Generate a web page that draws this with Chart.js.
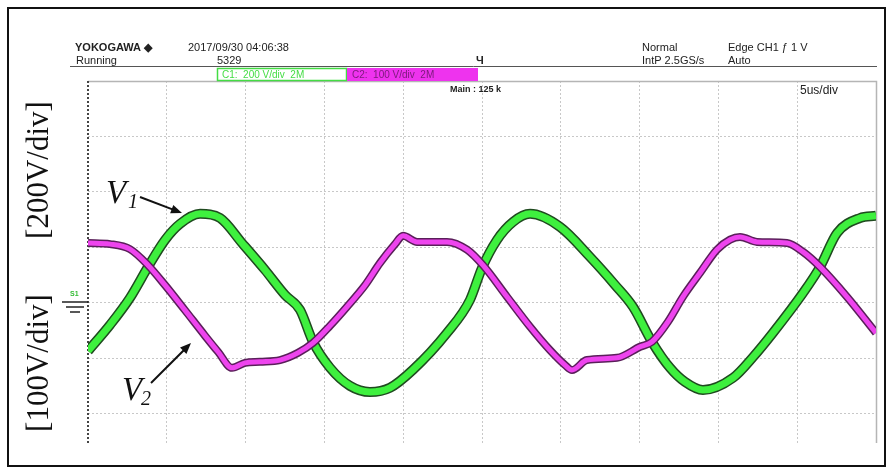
<!DOCTYPE html>
<html>
<head>
<meta charset="utf-8">
<script src="https://cdn.jsdelivr.net/npm/chart.js@4.4.0/dist/chart.umd.min.js"></script>
<style>
  html, body { margin: 0; padding: 0; background: #fff; }
  #wrap { position: relative; width: 893px; height: 474px; }
  canvas { display: block; }
</style>
</head>
<body>
<div id="wrap"><canvas id="scope" width="893" height="474"></canvas></div>
<script>
// Time base: 5 us/div, 10 divisions (microseconds)
const timeTicks = [0, 5, 10, 15, 20, 25, 30, 35, 40, 45, 50];

// CH1 (V1), 200 V/div
const timeV1 = [0, 1.4, 2.66, 3.81, 4.89, 5.84, 7.11, 8.38, 9.77, 11.23, 12.5, 13.45, 14.28, 15.36, 16.62, 17.89, 19.16, 20.62, 22.78, 24.24, 25.0, 25.95, 26.97, 28.05, 29.95, 31.85, 33.44, 34.58, 35.79, 36.93, 37.88, 39.02, 40.93, 42.2, 43.46, 45.37, 46.45, 47.53, 48.98, 50.0];
const voltsV1 = [-173, -79, 18, 130, 227, 285, 321, 306, 216, 119, 29, -25, -141, -234, -299, -321, -306, -241, -108, 11, 126, 227, 292, 321, 274, 166, 65, -14, -141, -234, -285, -314, -270, -195, -108, 36, 130, 252, 306, 314];

// CH2 (V2), 100 V/div
const timeV2 = [0, 1.4, 2.66, 3.81, 4.89, 6.15, 7.42, 8.25, 9.14, 9.96, 10.91, 12.18, 13.32, 14.28, 15.36, 16.43, 17.58, 18.53, 19.48, 19.99, 20.88, 22.78, 24.05, 25.06, 26.59, 28.05, 29.31, 30.27, 30.71, 31.66, 33.57, 35.03, 35.79, 36.8, 37.75, 38.83, 39.91, 40.74, 41.37, 42.45, 44.35, 45.37, 46.45, 48.16, 50.0];
const voltsV2 = [108, 106, 97, 68, 32, -13, -59, -88, -117, -108, -106, -103, -90, -72, -41, -7, 32, 72, 106, 121, 110, 110, 96, 68, 11, -43, -85, -112, -121, -103, -99, -79, -70, -34, 11, 54, 96, 114, 119, 110, 108, 92, 65, 11, -54];

// Vertical graticule: CH1 volts at each division
const voltTicksV1 = [-400, -200, 0, 200, 400, 600, 800];

const pts = (t, v) => t.map((x, i) => ({ x, y: v[i] }));

const serif = '"Liberation Serif", "DejaVu Serif", serif';
const sans = '"Liberation Sans", Arial, sans-serif';

function arrow(ctx, x0, y0, x1, y1) {
  const a = Math.atan2(y1 - y0, x1 - x0);
  const L = 11, W = 4.5;
  ctx.beginPath();
  ctx.moveTo(x0, y0);
  ctx.lineTo(x1 - L * 0.8 * Math.cos(a), y1 - L * 0.8 * Math.sin(a));
  ctx.lineWidth = 2;
  ctx.strokeStyle = '#111';
  ctx.stroke();
  ctx.beginPath();
  ctx.moveTo(x1, y1);
  ctx.lineTo(x1 - L * Math.cos(a) + W * Math.sin(a), y1 - L * Math.sin(a) - W * Math.cos(a));
  ctx.lineTo(x1 - L * Math.cos(a) - W * Math.sin(a), y1 - L * Math.sin(a) + W * Math.cos(a));
  ctx.closePath();
  ctx.fillStyle = '#111';
  ctx.fill();
}

const frame = {
  id: 'scopeFrame',
  beforeDatasetsDraw(chart) {
    const { ctx, chartArea: a } = chart;
    ctx.save();
    // right and top edges of the screen
    ctx.strokeStyle = '#b5b5b5';
    ctx.lineWidth = 1.5;
    ctx.beginPath();
    ctx.moveTo(a.left, a.top + 0.5);
    ctx.lineTo(a.right + 0.5, a.top + 0.5);
    ctx.lineTo(a.right + 0.5, a.bottom);
    ctx.stroke();
    // left edge with division marks
    ctx.strokeStyle = '#444';
    ctx.lineWidth = 2;
    ctx.setLineDash([2, 2]);
    ctx.beginPath();
    ctx.moveTo(a.left, a.top);
    ctx.lineTo(a.left, a.bottom);
    ctx.stroke();
    ctx.restore();
  },
  afterDraw(chart) {
    const { ctx } = chart;
    ctx.save();
    // outer border
    ctx.strokeStyle = '#111';
    ctx.lineWidth = 2;
    ctx.strokeRect(8, 8, 877, 458);

    // header
    ctx.fillStyle = '#222';
    ctx.textBaseline = 'alphabetic';
    ctx.font = 'bold 11px ' + sans;
    ctx.fillText('YOKOGAWA \u25C6', 75, 51);
    ctx.font = '11px ' + sans;
    ctx.fillText('2017/09/30 04:06:38', 188, 51);
    ctx.fillText('Running', 76, 64);
    ctx.fillText('5329', 217, 64);
    ctx.fillText('Normal', 642, 51);
    ctx.fillText('IntP 2.5GS/s', 642, 64);
    ctx.fillText('Edge CH1 \u0192 1 V', 728, 51);
    ctx.fillText('Auto', 728, 64);
    ctx.font = 'bold 11px ' + sans;
    ctx.fillText('\u0427', 476, 64);
    ctx.strokeStyle = '#555';
    ctx.lineWidth = 1;
    ctx.beginPath();
    ctx.moveTo(70, 66.5);
    ctx.lineTo(877, 66.5);
    ctx.stroke();

    // channel boxes
    ctx.fillStyle = '#fff';
    ctx.fillRect(217, 68, 130, 13);
    ctx.strokeStyle = '#44dd44';
    ctx.lineWidth = 1.5;
    ctx.strokeRect(217.5, 68.5, 129, 12);
    ctx.fillStyle = '#ee33ee';
    ctx.fillRect(347, 68, 131, 13);
    ctx.font = '10px ' + sans;
    ctx.fillStyle = '#44dd44';
    ctx.fillText('C1:  200 V/div  2M', 222, 78);
    ctx.fillStyle = '#7a1a7a';
    ctx.fillText('C2:  100 V/div  2M', 352, 78);

    ctx.fillStyle = '#222';
    ctx.font = 'bold 9px ' + sans;
    ctx.fillText('Main : 125 k', 450, 92);
    ctx.font = '12px ' + sans;
    ctx.fillText('5us/div', 800, 94);

    // ground reference marker
    ctx.fillStyle = '#33bb33';
    ctx.font = 'bold 7px ' + sans;
    ctx.fillText('S1', 70, 296);
    ctx.strokeStyle = '#222';
    ctx.lineWidth = 1.5;
    ctx.beginPath();
    ctx.moveTo(62, 302); ctx.lineTo(88, 302);
    ctx.moveTo(66, 307); ctx.lineTo(84, 307);
    ctx.moveTo(70, 312); ctx.lineTo(80, 312);
    ctx.stroke();

    // vertical scale labels
    ctx.fillStyle = '#111';
    ctx.font = '31px ' + serif;
    ctx.textAlign = 'center';
    ctx.textBaseline = 'middle';
    ctx.save();
    ctx.translate(40, 170);
    ctx.rotate(-Math.PI / 2);
    ctx.fillText('[200V/div]', 0, 0);
    ctx.restore();
    ctx.save();
    ctx.translate(40, 363);
    ctx.rotate(-Math.PI / 2);
    ctx.fillText('[100V/div]', 0, 0);
    ctx.restore();

    // trace labels
    ctx.textAlign = 'left';
    ctx.textBaseline = 'alphabetic';
    ctx.font = 'italic 33px ' + serif;
    ctx.fillText('V', 106, 203);
    ctx.fillText('V', 122, 400);
    ctx.font = 'italic 20px ' + serif;
    ctx.fillText('1', 128, 208);
    ctx.fillText('2', 141, 405);
    arrow(ctx, 140, 197, 182, 213);
    arrow(ctx, 151, 383, 191, 343);
    ctx.restore();
  }
};

const common = { pointRadius: 0, fill: false, tension: 0.4, cubicInterpolationMode: 'monotone' };

new Chart(document.getElementById('scope'), {
  type: 'line',
  data: {
    datasets: [
      Object.assign({ label: 'V1 edge', data: pts(timeV1, voltsV1), yAxisID: 'y', borderColor: '#1f4a1f', borderWidth: 10, order: 4 }, common),
      Object.assign({ label: 'V1', data: pts(timeV1, voltsV1), yAxisID: 'y', borderColor: '#3ef03e', borderWidth: 7, order: 3 }, common),
      Object.assign({ label: 'V2 edge', data: pts(timeV2, voltsV2), yAxisID: 'y2', borderColor: '#5a1f5a', borderWidth: 8, order: 2 }, common),
      Object.assign({ label: 'V2', data: pts(timeV2, voltsV2), yAxisID: 'y2', borderColor: '#ee44ee', borderWidth: 5, order: 1 }, common)
    ]
  },
  options: {
    responsive: false,
    animation: false,
    devicePixelRatio: 1,
    layout: { padding: { left: 88, top: 81, right: 17, bottom: 31 } },
    plugins: { legend: { display: false }, tooltip: { enabled: false } },
    scales: {
      x: {
        type: 'linear', min: 0, max: 50,
        afterBuildTicks: s => { s.ticks = timeTicks.map(v => ({ value: v })); },
        ticks: { display: false },
        grid: { color: '#c8c8c8', lineWidth: 1, drawTicks: false },
        border: { display: false, dash: [2, 2] }
      },
      y: {
        type: 'linear', min: -505, max: 800,
        afterBuildTicks: s => { s.ticks = voltTicksV1.map(v => ({ value: v })); },
        ticks: { display: false },
        grid: { color: '#c8c8c8', lineWidth: 1, drawTicks: false },
        border: { display: false, dash: [2, 2] }
      },
      y2: { type: 'linear', min: -252.5, max: 400, display: false }
    }
  },
  plugins: [frame]
});
</script>
</body>
</html>
